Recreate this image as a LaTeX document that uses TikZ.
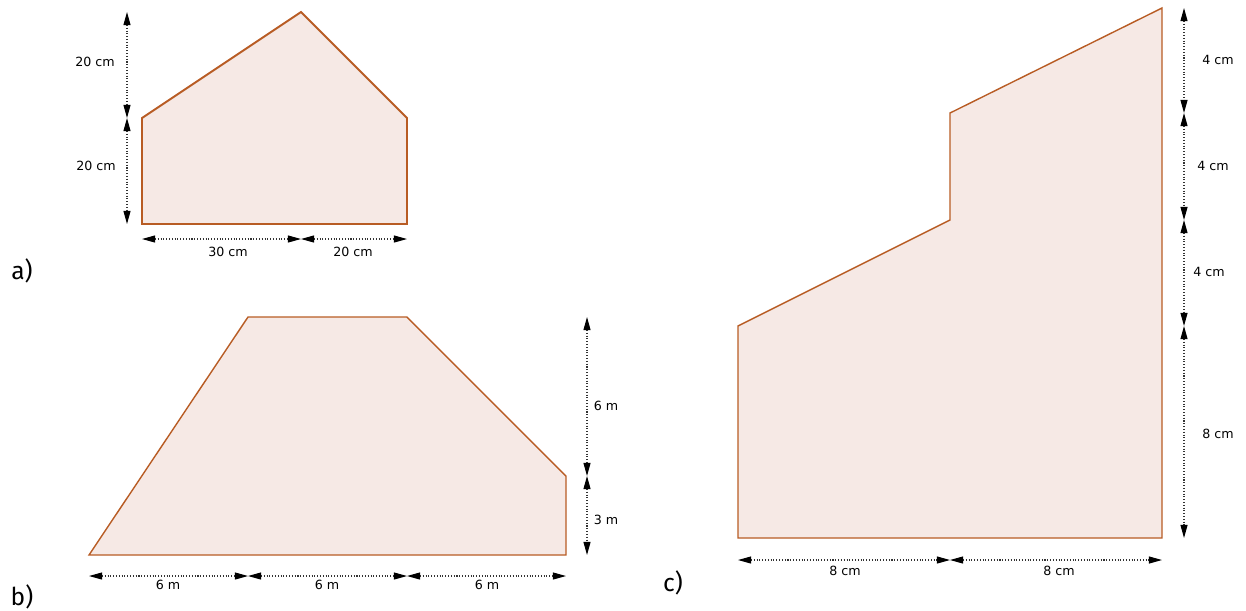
\documentclass[tikz,border=0pt]{standalone}
\usepackage{fontspec}
\setmainfont{DejaVu Sans}
\newfontfamily\partfont{Fira Sans}
\usepackage{tikz}
\usetikzlibrary{arrows.meta}

\definecolor{edgebrown}{RGB}{184,92,36}
\definecolor{fillrose}{RGB}{246,233,229}

\tikzset{
	figure/.style={draw=edgebrown, fill=fillrose, line width=1.1pt, line join=miter},
	dim/.style={densely dotted, line width=0.6pt, black!80, {Triangle[length=7.5pt,width=4pt,black]}-{Triangle[length=7.5pt,width=4pt,black]}},
	dimlabel/.style={font=\fontsize{7.2}{8}\selectfont, inner sep=1pt},
	partlabel/.style={font=\partfont\fontsize{14}{16}\selectfont, inner sep=0pt}
}

\begin{document}
\begin{tikzpicture}[x=0.02cm, y=-0.02cm]
	\useasboundingbox (0,0) rectangle (1246,610);

	% a) pentagon
	\coordinate (a1) at (142,224); \coordinate (a2) at (407,224); \coordinate (a3) at (407,118);
	\coordinate (a4) at (301,12); \coordinate (a5) at (142,118);
	\draw[figure] (a1) -- (a2) -- (a3) -- (a4) -- (a5) -- cycle;
	\coordinate (av1) at (127,12); \coordinate (av2) at (127,118); \coordinate (av3) at (127,224);
	\draw[dim] (av1) -- (av2);
	\draw[dim] (av2) -- (av3);
	\coordinate (ah1) at (142,239); \coordinate (ah2) at (301,239); \coordinate (ah3) at (407,239);
	\draw[dim] (ah1) -- (ah2);
	\draw[dim] (ah2) -- (ah3);
	\node (la1) at (95,62) [dimlabel] {20 cm};
	\node (la2) at (96,166) [dimlabel] {20 cm};
	\node (la3) at (228,252) [dimlabel] {30 cm};
	\node (la4) at (353,252) [dimlabel] {20 cm};
	\node (pa) at (22,271) [partlabel] {a)};

	% b) trapezoid with cut corner
	\coordinate (b1) at (89,555); \coordinate (b2) at (566,555); \coordinate (b3) at (566,476);
	\coordinate (b4) at (407,317); \coordinate (b5) at (248,317);
	\draw[figure, line width=0.8pt] (b1) -- (b2) -- (b3) -- (b4) -- (b5) -- cycle;
	\coordinate (bv1) at (587,317); \coordinate (bv2) at (587,476); \coordinate (bv3) at (587,555);
	\draw[dim] (bv1) -- (bv2);
	\draw[dim] (bv2) -- (bv3);
	\coordinate (bh1) at (89,576); \coordinate (bh2) at (248,576);
	\coordinate (bh3) at (407,576); \coordinate (bh4) at (566,576);
	\draw[dim] (bh1) -- (bh2);
	\draw[dim] (bh2) -- (bh3);
	\draw[dim] (bh3) -- (bh4);
	\node (lb1) at (606,406) [dimlabel] {6 m};
	\node (lb2) at (606,520) [dimlabel] {3 m};
	\node (lb3) at (168,585) [dimlabel] {6 m};
	\node (lb4) at (327,585) [dimlabel] {6 m};
	\node (lb5) at (487,585) [dimlabel] {6 m};
	\node (pb) at (22,597) [partlabel] {b)};

	% c) stepped shape
	\coordinate (c1) at (738,538); \coordinate (c2) at (1162,538); \coordinate (c3) at (1162,8);
	\coordinate (c4) at (950,113); \coordinate (c5) at (950,220); \coordinate (c6) at (738,326);
	\draw[figure, line width=0.8pt] (c1) -- (c2) -- (c3) -- (c4) -- (c5) -- (c6) -- cycle;
	\coordinate (cv1) at (1184,8); \coordinate (cv2) at (1184,113); \coordinate (cv3) at (1184,220);
	\coordinate (cv4) at (1184,326); \coordinate (cv5) at (1184,538);
	\draw[dim] (cv1) -- (cv2);
	\draw[dim] (cv2) -- (cv3);
	\draw[dim] (cv3) -- (cv4);
	\draw[dim] (cv4) -- (cv5);
	\coordinate (ch1) at (738,560); \coordinate (ch2) at (950,560); \coordinate (ch3) at (1162,560);
	\draw[dim] (ch1) -- (ch2);
	\draw[dim] (ch2) -- (ch3);
	\node (lc1) at (1218,60) [dimlabel] {4 cm};
	\node (lc2) at (1213,166) [dimlabel] {4 cm};
	\node (lc3) at (1209,272) [dimlabel] {4 cm};
	\node (lc4) at (1218,434) [dimlabel] {8 cm};
	\node (lc5) at (845,571) [dimlabel] {8 cm};
	\node (lc6) at (1059,571) [dimlabel] {8 cm};
	\node (pc) at (673,583) [partlabel] {c)};
\end{tikzpicture}
\end{document}
